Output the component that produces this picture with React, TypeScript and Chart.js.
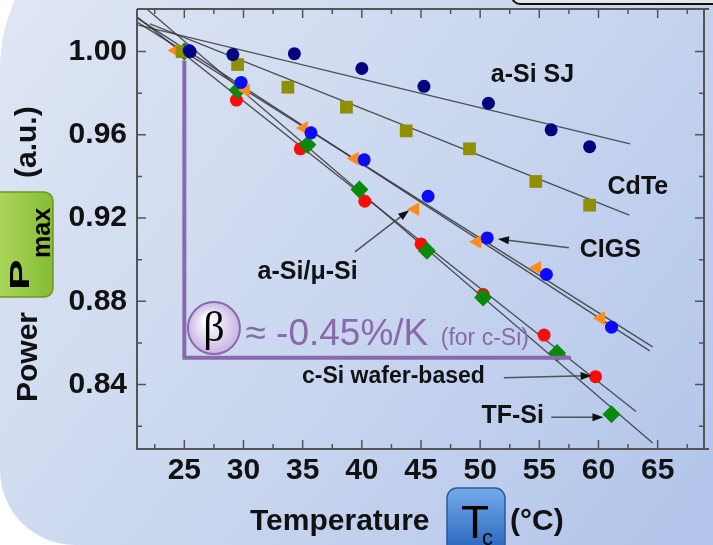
import React, { useEffect, useRef } from "react";
import { Chart, registerables } from "chart.js";
Chart.register(...registerables);

// ---------- data ----------
const xTicks = [25, 30, 35, 40, 45, 50, 55, 60, 65];
const xMinor = [22.5, 27.5, 32.5, 37.5, 42.5, 47.5, 52.5, 57.5, 62.5, 67.5];
const yTicks = [0.84, 0.88, 0.92, 0.96, 1.0];
const yMinor = [0.82, 0.86, 0.9, 0.94, 0.98];

const aSiSJ_T = [25.5, 29.1, 34.3, 40.0, 45.25, 50.7, 56.0, 59.25];
const aSiSJ_P = [1.0, 0.9986, 0.999, 0.9919, 0.9833, 0.9752, 0.9624, 0.9543];
const CdTe_T = [24.8, 29.5, 33.75, 38.7, 43.75, 49.1, 54.7, 59.25];
const CdTe_P = [1.0, 0.9938, 0.9829, 0.9733, 0.9619, 0.9533, 0.9376, 0.9262];
const aSiMuSi_T = [24.25, 30.2, 35.1, 39.4, 44.5, 49.75, 54.8, 60.2];
const aSiMuSi_P = [1.0005, 0.9814, 0.9633, 0.9486, 0.9243, 0.9086, 0.8962, 0.8719];
const CIGS_T = [25.4, 29.8, 35.7, 40.2, 45.6, 50.6, 55.6, 61.1];
const CIGS_P = [1.0005, 0.9852, 0.961, 0.948, 0.9305, 0.9105, 0.8929, 0.8676];
const cSi_T = [25.0, 29.4, 34.8, 40.25, 45.0, 50.25, 55.4, 59.75];
const cSi_P = [1.0, 0.9767, 0.9533, 0.9281, 0.9076, 0.8833, 0.8638, 0.8438];
const TFSi_T = [25.0, 29.5, 35.4, 39.8, 45.5, 50.25, 56.5, 61.1];
const TFSi_P = [1.0, 0.9814, 0.9552, 0.9338, 0.9043, 0.8819, 0.8552, 0.8257];

// linear trend lines (endpoints)
const aSiSJ_fitT = [21, 62.67];
const aSiSJ_fitP = [1.0129, 0.9557];
const CdTe_fitT = [22.1, 62.6];
const CdTe_fitP = [1.0133, 0.9214];
const aSiMuSi_fitT = [21, 64.33];
const aSiMuSi_fitP = [1.0162, 0.8562];
const CIGS_fitT = [21, 64.58];
const CIGS_fitP = [1.0143, 0.8581];
const cSi_fitT = [21, 63.17];
const cSi_fitP = [1.0167, 0.8271];
const TFSi_fitT = [21.83, 64.58];
const TFSi_fitP = [1.0205, 0.8119];

// series labels (data coords of text centre)
const seriesLabels = ["a-Si SJ", "CdTe", "CIGS", "a-Si/\u03bc-Si", "c-Si wafer-based", "TF-Si"];
const labelT = [54.42, 63.33, 61.0, 35.42, 42.67, 52.75];
const labelP = [0.98857, 0.93476, 0.90476, 0.89381, 0.84381, 0.82476];

// arrows: from (T,P) to (T,P)
const arrowFromT = [57.5, 39.42, 52.0, 56.0];
const arrowFromP = [0.90571, 0.90381, 0.84333, 0.82429];
const arrowToT = [51.5, 44.0, 59.42, 60.42];
const arrowToP = [0.91, 0.92381, 0.84429, 0.82429];

// beta annotation
const betaText = "\u2248 -0.45%/K";
const betaNote = "(for c-Si)";

const SANS = '"Liberation Sans", Arial, sans-serif';
const PURPLE = "#8a68ad";

const pts = (T: number[], P: number[]) => T.map((t, i) => ({ x: t, y: P[i] }));

const fit = (T: number[], P: number[]) => ({
  data: pts(T, P),
  showLine: true,
  borderColor: "rgba(55,55,55,0.85)",
  borderWidth: 1.3,
  pointRadius: 0,
  order: 20,
});

function arrowHead(ctx: CanvasRenderingContext2D, x1: number, y1: number, x2: number, y2: number) {
  const a = Math.atan2(y2 - y1, x2 - x1);
  ctx.strokeStyle = "rgba(70,70,70,0.9)";
  ctx.lineWidth = 1.5;
  ctx.beginPath();
  ctx.moveTo(x1, y1);
  ctx.lineTo(x2 - Math.cos(a) * 6, y2 - Math.sin(a) * 6);
  ctx.stroke();
  ctx.fillStyle = "#111";
  ctx.beginPath();
  ctx.moveTo(x2, y2);
  ctx.lineTo(x2 - Math.cos(a) * 11 + Math.sin(a) * 4, y2 - Math.sin(a) * 11 - Math.cos(a) * 4);
  ctx.lineTo(x2 - Math.cos(a) * 11 - Math.sin(a) * 4, y2 - Math.sin(a) * 11 + Math.cos(a) * 4);
  ctx.closePath();
  ctx.fill();
}

const decoPlugin = {
  id: "deco",
  beforeDraw(chart: any) {
    const ctx: CanvasRenderingContext2D = chart.ctx;
    const W = chart.width, H = chart.height;
    ctx.save();
    ctx.fillStyle = "#ffffff";
    ctx.fillRect(0, 0, W, H);
    const g = ctx.createLinearGradient(0, 0, W, H);
    g.addColorStop(0, "#dfe6f4");
    g.addColorStop(0.5, "#cad7ef");
    g.addColorStop(1, "#b1c4ea");
    ctx.fillStyle = g;
    ctx.beginPath();
    ctx.moveTo(0, 470);
    ctx.lineTo(0, 67);
    ctx.arc(157, 67, 157, Math.PI, Math.PI * 1.5);
    ctx.lineTo(W + 10, -90);
    ctx.lineTo(W + 10, H + 10);
    ctx.lineTo(75, H + 10);
    ctx.lineTo(75, 545);
    ctx.arc(75, 470, 75, Math.PI * 0.5, Math.PI);
    ctx.closePath();
    ctx.fill();
    // top-right box
    ctx.fillStyle = "#e6e6e6";
    ctx.strokeStyle = "#111";
    ctx.lineWidth = 2;
    ctx.beginPath();
    (ctx as any).roundRect(512, -20, 230, 24, 8);
    ctx.fill();
    ctx.stroke();
    ctx.restore();
  },
  afterDatasetsDraw(chart: any) {
    const ctx: CanvasRenderingContext2D = chart.ctx;
    const xs = chart.scales.x, ys = chart.scales.y;
    const px = (v: number) => xs.getPixelForValue(v);
    const py = (v: number) => ys.getPixelForValue(v);
    const { left, right, top, bottom } = chart.chartArea;
    ctx.save();
    // axes frame
    ctx.strokeStyle = "#555";
    ctx.lineWidth = 2;
    ctx.beginPath();
    ctx.moveTo(left, top);
    ctx.lineTo(left, bottom);
    ctx.lineTo(right + 5, bottom);
    ctx.moveTo(left, top);
    ctx.lineTo(right + 5, top);
    ctx.moveTo(right, top);
    ctx.lineTo(right, bottom);
    ctx.stroke();
    ctx.lineWidth = 1.5;
    ctx.beginPath();
    const tick = (vals: number[], len: number) => {
      vals.forEach((v) => {
        const x = px(v);
        if (x < left || x > right) return;
        ctx.moveTo(x, bottom);
        ctx.lineTo(x, bottom - len);
        ctx.moveTo(x, top);
        ctx.lineTo(x, top + len);
      });
    };
    const ytick = (vals: number[], len: number) => {
      vals.forEach((v) => {
        const y = py(v);
        if (y < top || y > bottom) return;
        ctx.moveTo(left, y);
        ctx.lineTo(left + len, y);
        ctx.moveTo(right, y);
        ctx.lineTo(right - len, y);
      });
    };
    tick(xTicks, 9);
    tick(xMinor, 5);
    ytick(yTicks, 9);
    ytick(yMinor, 5);
    ctx.stroke();

    // purple beta annotation lines
    ctx.strokeStyle = PURPLE;
    ctx.lineWidth = 4;
    ctx.beginPath();
    ctx.moveTo(px(25), py(0.9957));
    ctx.lineTo(px(25), py(0.8529));
    ctx.moveTo(px(24.85), py(0.8529));
    ctx.lineTo(px(57.67), py(0.8529));
    ctx.stroke();

    // beta circle
    const cx = px(27.5), cy = py(0.86714);
    const rg = ctx.createRadialGradient(cx - 6, cy - 8, 3, cx, cy, 27);
    rg.addColorStop(0, "#ffffff");
    rg.addColorStop(1, "#c7b2e2");
    ctx.fillStyle = rg;
    ctx.strokeStyle = PURPLE;
    ctx.lineWidth = 2;
    ctx.beginPath();
    ctx.arc(cx, cy, 26, 0, Math.PI * 2);
    ctx.fill();
    ctx.stroke();
    ctx.fillStyle = "#000";
    ctx.font = '42px "Liberation Serif", "DejaVu Serif", serif';
    ctx.textAlign = "center";
    ctx.textBaseline = "alphabetic";
    ctx.fillText("\u03b2", cx, cy + 13);

    ctx.fillStyle = PURPLE;
    ctx.textAlign = "left";
    ctx.font = `37px ${SANS}`;
    ctx.fillText(betaText, px(30.17), py(0.85905));
    ctx.font = `23px ${SANS}`;
    ctx.fillText(betaNote, px(46.67), py(0.85905));

    // series labels
    ctx.fillStyle = "#111";
    ctx.textAlign = "center";
    ctx.textBaseline = "middle";
    seriesLabels.forEach((s, i) => {
      ctx.font = `bold ${i === 4 ? 23 : 25}px ${SANS}`;
      ctx.fillText(s, px(labelT[i]), py(labelP[i]));
    });
    // arrows
    arrowFromT.forEach((t, i) => {
      arrowHead(ctx, px(t), py(arrowFromP[i]), px(arrowToT[i]), py(arrowToP[i]));
    });
    ctx.restore();
  },
  afterDraw(chart: any) {
    const ctx: CanvasRenderingContext2D = chart.ctx;
    ctx.save();
    ctx.fillStyle = "#111";
    ctx.textBaseline = "alphabetic";
    ctx.textAlign = "left";
    ctx.font = `bold 30px ${SANS}`;
    ctx.fillText("Temperature", 250, 530);
    ctx.fillText("(\u00b0C)", 510, 530);
    // Tc box
    const bg = ctx.createLinearGradient(0, 488, 0, 545);
    bg.addColorStop(0, "#74abe9");
    bg.addColorStop(1, "#2f6cc2");
    ctx.fillStyle = bg;
    ctx.strokeStyle = "#2a5a9e";
    ctx.lineWidth = 1.5;
    ctx.beginPath();
    (ctx as any).roundRect(447, 488, 58, 80, 10);
    ctx.fill();
    ctx.stroke();
    ctx.fillStyle = "#000";
    ctx.textAlign = "center";
    ctx.font = `46px ${SANS}`;
    ctx.fillText("T", 475, 538);
    ctx.textAlign = "left";
    ctx.font = `22px ${SANS}`;
    ctx.fillText("c", 482, 545);

    // y title
    ctx.fillStyle = "#111";
    ctx.font = `bold 30px ${SANS}`;
    ctx.save();
    ctx.translate(37, 402);
    ctx.rotate(-Math.PI / 2);
    ctx.fillText("Power", 0, 0);
    ctx.restore();
    ctx.save();
    ctx.translate(36, 178);
    ctx.rotate(-Math.PI / 2);
    ctx.fillText("(a.u.)", 0, 0);
    ctx.restore();
    // Pmax box
    const gg = ctx.createLinearGradient(0, 0, 53, 0);
    gg.addColorStop(0, "#a9d65a");
    gg.addColorStop(1, "#86bb32");
    ctx.fillStyle = gg;
    ctx.strokeStyle = "#6c9a22";
    ctx.lineWidth = 1.5;
    ctx.beginPath();
    (ctx as any).roundRect(-10, 192, 63, 105, 9);
    ctx.fill();
    ctx.stroke();
    ctx.fillStyle = "#000";
    ctx.save();
    ctx.translate(29, 290);
    ctx.rotate(-Math.PI / 2);
    ctx.scale(1.7, 1);
    ctx.font = `bold 27px ${SANS}`;
    ctx.fillText("P", 0, 0);
    ctx.restore();
    ctx.save();
    ctx.translate(50, 258);
    ctx.rotate(-Math.PI / 2);
    ctx.font = `bold 25px ${SANS}`;
    ctx.fillText("max", 0, 0);
    ctx.restore();
    ctx.restore();
  },
};

export default function App() {
  const ref = useRef<HTMLCanvasElement>(null);
  useEffect(() => {
    document.body.style.margin = "0";
    const chart = new Chart(ref.current!, {
      type: "scatter",
      data: {
        datasets: [
          fit(aSiSJ_fitT, aSiSJ_fitP),
          fit(CdTe_fitT, CdTe_fitP),
          fit(aSiMuSi_fitT, aSiMuSi_fitP),
          fit(CIGS_fitT, CIGS_fitP),
          fit(cSi_fitT, cSi_fitP),
          fit(TFSi_fitT, TFSi_fitP),
          {
            label: "c-Si wafer-based",
            data: pts(cSi_T, cSi_P),
            pointStyle: "circle",
            pointRadius: 6.5,
            backgroundColor: "#ff0a0a",
            borderWidth: 0,
            order: 6,
          },
          {
            label: "TF-Si",
            data: pts(TFSi_T, TFSi_P),
            pointStyle: "rectRot",
            pointRadius: 9,
            backgroundColor: "#0a8a0a",
            borderWidth: 0,
            order: 5,
          },
          {
            label: "a-Si/\u03bc-Si",
            data: pts(aSiMuSi_T, aSiMuSi_P),
            pointStyle: "triangle",
            pointRotation: -90,
            pointRadius: 8,
            backgroundColor: "#ff8c1a",
            borderWidth: 0,
            order: 4,
          },
          {
            label: "CdTe",
            data: pts(CdTe_T, CdTe_P),
            pointStyle: "rect",
            pointRadius: 9,
            backgroundColor: "#8f8f00",
            borderWidth: 0,
            order: 3,
          },
          {
            label: "CIGS",
            data: pts(CIGS_T, CIGS_P),
            pointStyle: "circle",
            pointRadius: 6.5,
            backgroundColor: "#0a0aff",
            borderWidth: 0,
            order: 2,
          },
          {
            label: "a-Si SJ",
            data: pts(aSiSJ_T, aSiSJ_P),
            pointStyle: "circle",
            pointRadius: 6.5,
            backgroundColor: "#000080",
            borderWidth: 0,
            order: 1,
          },
        ],
      },
      options: {
        responsive: false,
        animation: false,
        events: [],
        layout: { padding: { top: 5, right: 1, left: 0, bottom: 0 } },
        plugins: { legend: { display: false }, tooltip: { enabled: false } },
        scales: {
          x: {
            type: "linear",
            min: 21,
            max: 68.9167,
            grid: { display: false, drawTicks: false },
            border: { display: false },
            afterBuildTicks: (s: any) => {
              s.ticks = xTicks.map((v) => ({ value: v }));
            },
            afterFit: (s: any) => {
              s.height = 96;
              s.paddingLeft = 0;
              s.paddingRight = 0;
            },
            ticks: {
              padding: 4,
              color: "#111",
              font: { family: SANS, size: 30, weight: "bold" },
              maxRotation: 0,
              autoSkip: false,
              callback: (v: any) => String(v),
            },
          },
          y: {
            type: "linear",
            min: 0.80905,
            max: 1.02048,
            grid: { display: false, drawTicks: false },
            border: { display: false },
            afterBuildTicks: (s: any) => {
              s.ticks = yTicks.map((v) => ({ value: v }));
            },
            afterFit: (s: any) => {
              s.width = 137;
              s.paddingTop = 0;
              s.paddingBottom = 0;
            },
            ticks: {
              padding: 10,
              color: "#111",
              font: { family: SANS, size: 30, weight: "bold" },
              autoSkip: false,
              callback: (v: any) => Number(v).toFixed(2),
            },
          },
        },
      },
      plugins: [decoPlugin],
    } as any);
    return () => chart.destroy();
  }, []);
  return (
    <div style={{ width: 713, height: 545 }}>
      <canvas ref={ref} width={713} height={545} style={{ display: "block" }} />
    </div>
  );
}
